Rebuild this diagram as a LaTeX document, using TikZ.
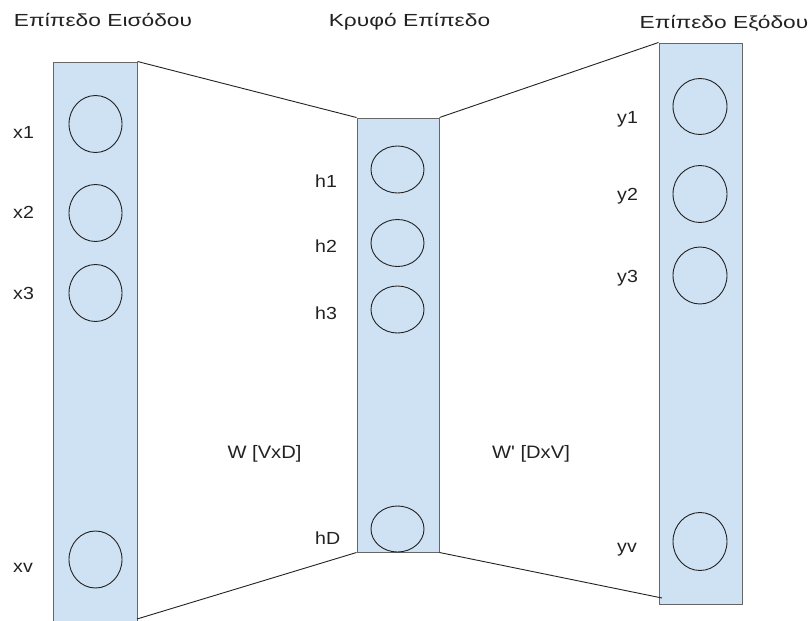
\documentclass[tikz,border=0pt]{standalone}
\usepackage{fontspec}
\setmainfont{Liberation Sans}
\newfontfamily\wfont[FakeStretch=1.12]{Liberation Sans}
\newfontfamily\tfont[FakeStretch=1.3]{Liberation Sans}
\usetikzlibrary{shapes.geometric}
\definecolor{boxfill}{HTML}{CFE2F3}
\definecolor{boxline}{HTML}{666666}
\definecolor{inkc}{HTML}{222222}
\begin{document}
\begin{tikzpicture}[x=1pt,y=-1pt,
  layer/.style={draw=boxline,fill=boxfill,line width=1pt,rectangle,inner sep=0pt},
  neuron/.style={draw=inkc,ellipse,line width=0.9pt,inner sep=0pt},
  lbl/.style={text=inkc,font=\wfont\fontsize{17.5}{20}\selectfont,inner sep=0pt,anchor=base west},
  ttl/.style={text=inkc,font=\tfont\fontsize{17.5}{20}\selectfont,inner sep=0pt,anchor=base},
  wlbl/.style={text=inkc,font=\wfont\fontsize{18}{20}\selectfont,inner sep=0pt,anchor=base},
  conn/.style={draw=inkc,line width=0.9pt}]
\useasboundingbox (0,0) rectangle (809,621);
% layers
\node[layer,minimum width=84pt,minimum height=563pt] (inp) at (95,343.5) {};
\node[layer,minimum width=82pt,minimum height=434pt] (hid) at (398,335) {};
\node[layer,minimum width=83pt,minimum height=561pt] (outp) at (700.5,323.5) {};
% connectors
\coordinate (inpb) at (137,619);
\coordinate (outb) at (662,598);
\draw[conn] (inp.north east) -- (hid.north west);
\draw[conn] (inpb) -- (hid.south west);
\draw[conn] (hid.north east) -- (outp.north west);
\draw[conn] (hid.south east) -- (outb);
% neurons
\node[neuron,minimum width=53pt,minimum height=57pt] (nx1) at (95.5,124) {};
\node[neuron,minimum width=53pt,minimum height=57pt] (nx2) at (95.5,213) {};
\node[neuron,minimum width=53pt,minimum height=57pt] (nx3) at (95.5,293) {};
\node[neuron,minimum width=53pt,minimum height=57pt] (nxv) at (95.5,559.5) {};
\node[neuron,minimum width=53pt,minimum height=47pt] (nh1) at (397.5,169.5) {};
\node[neuron,minimum width=53pt,minimum height=47pt] (nh2) at (397.5,243) {};
\node[neuron,minimum width=53pt,minimum height=47pt] (nh3) at (397.5,309.5) {};
\node[neuron,minimum width=53pt,minimum height=46pt] (nhD) at (397.5,529) {};
\node[neuron,minimum width=54pt,minimum height=56pt] (ny1) at (700,106.5) {};
\node[neuron,minimum width=54pt,minimum height=57pt] (ny2) at (700,194) {};
\node[neuron,minimum width=54pt,minimum height=57pt] (ny3) at (700,275.5) {};
\node[neuron,minimum width=54pt,minimum height=58pt] (nyv) at (700,541.5) {};
% labels
\node[lbl] (lx1) at (13,138) {x1};
\node[lbl] (lx2) at (13,218) {x2};
\node[lbl] (lx3) at (13,299) {x3};
\node[lbl] (lxv) at (13,572) {xv};
\node[lbl] (lh1) at (315,187) {h1};
\node[lbl] (lh2) at (315,252) {h2};
\node[lbl] (lh3) at (315,319) {h3};
\node[lbl] (lhD) at (315,544) {hD};
\node[lbl] (ly1) at (617,123) {y1};
\node[lbl] (ly2) at (617,200) {y2};
\node[lbl] (ly3) at (617,282) {y3};
\node[lbl] (lyv) at (617,552) {yv};
% titles
\node[ttl] (t1) at (103,27) {Επίπεδο Εισόδου};
\node[ttl] (t2) at (409.5,27) {Κρυφό Επίπεδο};
\node[ttl] (t3) at (724,28) {Επίπεδο Εξόδου};
\node[wlbl] (w1) at (264.5,458) {W [VxD]};
\node[wlbl] (w2) at (531,458) {W' [DxV]};
\end{tikzpicture}
\end{document}
